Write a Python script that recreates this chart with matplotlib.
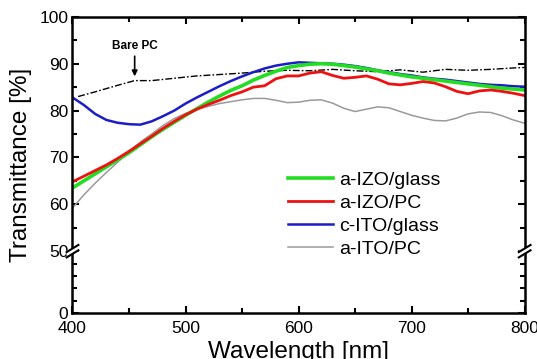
import numpy as np
import matplotlib
matplotlib.use("Agg")
import matplotlib.pyplot as plt
from matplotlib.ticker import FixedLocator, NullFormatter

plt.rcParams['font.family'] = ['Liberation Sans', 'DejaVu Sans']

# --- data ---
wl = np.arange(400, 801, 10)

izo_glass = [63.5, 65.0, 66.5, 68.0, 69.5, 71.0, 72.7, 74.4, 76.0, 77.5,
             79.0, 80.4, 81.8, 83.1, 84.3, 85.3, 86.5, 87.5, 88.4, 89.2,
             89.6, 89.9, 90.0, 89.9, 89.6, 89.3, 88.9, 88.5, 88.0, 87.6,
             87.2, 86.9, 86.6, 86.3, 86.0, 85.7, 85.4, 85.1, 84.8, 84.6, 84.4]

izo_pc = [64.8, 66.0, 67.2, 68.4, 69.8, 71.3, 72.9, 74.5, 76.2, 77.7,
          79.1, 80.3, 81.3, 82.2, 83.2, 84.0, 85.0, 85.3, 86.8, 87.4,
          87.4, 88.0, 88.3, 87.5, 86.9, 87.1, 87.4, 86.7, 85.7, 85.5,
          85.8, 86.2, 85.9, 85.1, 84.1, 83.6, 84.2, 84.4, 84.1, 83.7, 83.2]

ito_glass = [82.8, 81.2, 79.3, 78.0, 77.4, 77.1, 77.0, 77.7, 78.8, 80.0,
             81.5, 82.8, 84.0, 85.2, 86.3, 87.3, 88.2, 89.0, 89.6, 90.0,
             90.3, 90.2, 90.1, 90.0, 89.8, 89.5, 89.1, 88.6, 88.2, 87.8,
             87.5, 87.1, 86.8, 86.6, 86.3, 86.0, 85.7, 85.5, 85.4, 85.2, 85.1]

ito_pc = [59.2, 62.0, 64.5, 66.8, 69.0, 71.3, 73.3, 75.0, 76.8, 78.3,
          79.4, 80.2, 80.9, 81.5, 81.9, 82.3, 82.6, 82.6, 82.2, 81.7,
          81.8, 82.2, 82.3, 81.6, 80.5, 79.8, 80.3, 80.8, 80.6, 79.8,
          79.0, 78.4, 77.9, 77.8, 78.4, 79.3, 79.7, 79.6, 78.9, 78.0, 77.3]

pc_wl = [405, 420, 440, 455, 470, 490, 510, 530, 550, 570, 590,
         610, 630, 650, 670, 690, 710, 730, 750, 770, 790, 800]
bare_pc = [83.0, 84.0, 85.4, 86.4, 86.4, 86.9, 87.4, 87.7, 88.0, 88.4, 88.6,
           88.5, 88.8, 88.5, 88.3, 88.7, 88.2, 88.8, 88.6, 88.8, 89.1, 89.2]

yticks = [0, 50, 60, 70, 80, 90, 100]
xticks = [400, 500, 600, 700, 800]

# --- broken y axis: 0-50 squeezed ---
K = 0.264
def fwd(y):
    y = np.asarray(y, dtype=float)
    return np.where(y < 50, y * K, 50 * K + (y - 50))

def inv(z):
    z = np.asarray(z, dtype=float)
    return np.where(z < 50 * K, z / K, z - 50 * K + 50)

fig = plt.figure(figsize=(5.37, 3.59), dpi=100)
ax = fig.add_axes([0.135, 0.128, 0.842, 0.825])
ax.set_yscale('function', functions=(fwd, inv))

ax.plot(pc_wl, bare_pc, color='black', lw=1.0, ls=(0, (5, 1.5, 1.2, 1.5)))
ax.plot(wl, ito_pc, color='#9a9a9a', lw=1.1, label='a-ITO/PC')
ax.plot(wl, ito_glass, color='#1c1cc8', lw=1.8, label='c-ITO/glass')
ax.plot(wl, izo_glass, color='#22dd22', lw=2.6, label='a-IZO/glass')
ax.plot(wl, izo_pc, color='#ee1111', lw=2.0, label='a-IZO/PC')

ax.set_xlim(400, 800)
ax.set_ylim(0, 100)
ax.xaxis.set_major_locator(FixedLocator(xticks))
ax.xaxis.set_minor_locator(FixedLocator([450, 550, 650, 750]))
ax.yaxis.set_major_locator(FixedLocator(yticks))
ax.yaxis.set_minor_locator(FixedLocator([10, 20, 30, 40, 55, 65, 75, 85, 95]))
ax.yaxis.set_minor_formatter(NullFormatter())
ax.set_yticklabels([str(t) for t in yticks])
ax.tick_params(which='both', direction='in', top=True, right=True,
               width=1.5, labelsize=12.5)
ax.tick_params(axis='x', pad=6)
ax.tick_params(axis='y', pad=3)
ax.tick_params(which='major', length=5)
ax.tick_params(which='minor', length=3.5)
for s in ax.spines.values():
    s.set_linewidth(1.8)

ax.set_xlabel('Wavelength [nm]', fontsize=17.5, labelpad=3)
ax.set_ylabel('Transmittance [%]', fontsize=17.5, labelpad=5)

# break marks on both spines
yb = 50 * K / 63.2
for xa in (0, 1):
    ax.fill([xa - 0.012, xa + 0.012, xa + 0.012, xa - 0.012],
            [yb - 0.012, yb + 0.0, yb + 0.012, yb + 0.0],
            transform=ax.transAxes, color='white', clip_on=False, zorder=5)
    for dy in (-0.009, 0.009):
        ax.plot([xa - 0.013, xa + 0.013], [yb + dy - 0.012, yb + dy + 0.012],
                transform=ax.transAxes, color='black', lw=1.5,
                clip_on=False, zorder=6)

# legend
h, l = ax.get_legend_handles_labels()
order = [2, 3, 1, 0]
ax.legend([h[i] for i in order], [l[i] for i in order], loc='upper left',
          bbox_to_anchor=(0.46, 0.505), frameon=False, fontsize=14,
          handlelength=2.3, handletextpad=0.3, labelspacing=0.28,
          borderaxespad=0)

ax.annotate('Bare PC', xy=(455, 87.3), xytext=(455, 92.5),
            fontsize=8.5, fontweight='bold', ha='center', va='bottom',
            arrowprops=dict(arrowstyle='-|>', color='black', lw=1.2,
                            mutation_scale=8, shrinkA=1, shrinkB=0))

fig.savefig('out.png', dpi=100)
